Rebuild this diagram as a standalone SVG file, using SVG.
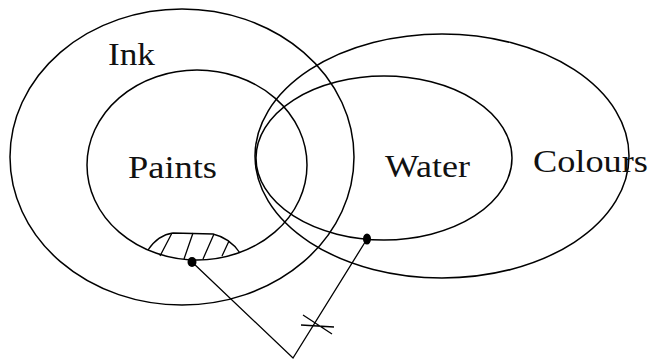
<svg xmlns="http://www.w3.org/2000/svg" width="652" height="360" viewBox="0 0 652 360">
<style>
.set{fill:none;stroke:#000;stroke-width:1.5}
.ln{fill:none;stroke:#000;stroke-width:1.3}
.lbl{font-family:"Liberation Serif","Times New Roman",serif;font-size:31px;fill:#111}
.dot{fill:#000}
</style>
<rect width="652" height="360" fill="#fff"/>
<g id="ink">
<ellipse class="set" cx="182" cy="157" rx="172" ry="148"/>
<text class="lbl" x="108" y="65" textLength="47" lengthAdjust="spacingAndGlyphs">Ink</text>
</g>
<g id="paints">
<ellipse class="set" cx="197" cy="165" rx="110" ry="95"/>
<text class="lbl" x="128" y="178" textLength="89" lengthAdjust="spacingAndGlyphs">Paints</text>
</g>
<g id="colours">
<ellipse class="set" cx="442" cy="156" rx="187" ry="122"/>
<text class="lbl" x="533" y="172" textLength="115" lengthAdjust="spacingAndGlyphs">Colours</text>
</g>
<g id="water">
<ellipse class="set" cx="384" cy="158" rx="128" ry="82"/>
<text class="lbl" x="385" y="177" textLength="85" lengthAdjust="spacingAndGlyphs">Water</text>
</g>
<g id="hatch">
<path class="ln" d="M148,250 Q158,235 173,233 L213,234 Q230,238 240,253"/>
<path class="ln" d="M172,233 L160,256 M193,233 L184,259 M214,234 L203,259 M229,241 L222,256"/>
</g>
<g id="connectors">
<path class="ln" d="M192,262 L293,358 L367,239"/>
<path class="ln" d="M301,325 L334,327 M303,315 L332,334"/>
<ellipse class="dot" cx="192" cy="262" rx="4.5" ry="5"/>
<ellipse class="dot" cx="367" cy="239" rx="4" ry="5.5"/>
</g>
</svg>
